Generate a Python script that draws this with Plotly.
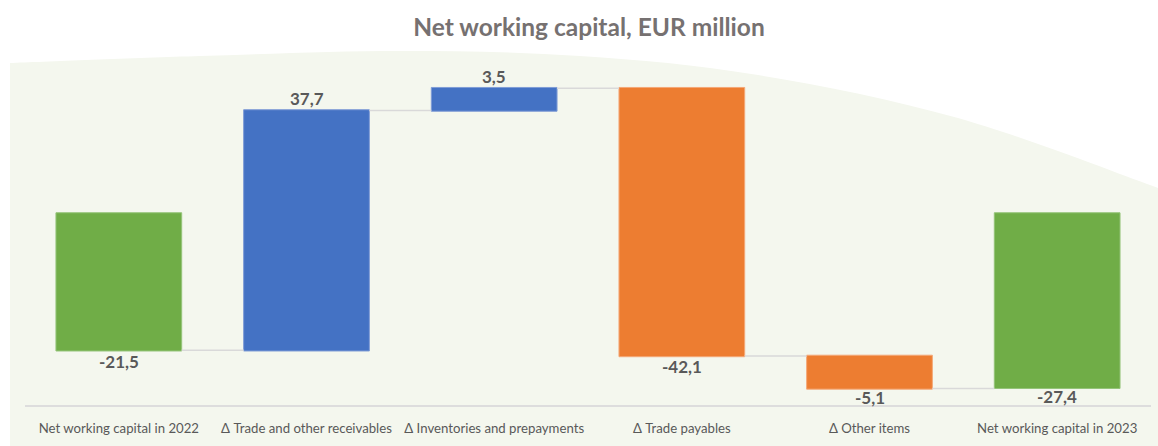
import plotly.graph_objects as go

# Net working capital bridge, EUR million
categories = [
    "Net working capital in 2022",
    "Δ Trade and other receivables",
    "Δ Inventories and prepayments",
    "Δ Trade payables",
    "Δ Other items",
    "Net working capital in 2023",
]
values = [-21.5, 37.7, 3.5, -42.1, -5.1, -27.4]
measures = ["absolute", "relative", "relative", "relative", "relative", "absolute"]
value_labels = [f"{v:.1f}".replace(".", ",") for v in values]

W, H = 1158, 446
M_L, M_R, M_T, M_B = 25, 7, 60, 41
PLOT_W = W - M_L - M_R
PLOT_H = H - M_T - M_B


def to_paper(x, y):
    """Convert a page pixel position into paper coordinates."""
    return (x - M_L) / PLOT_W, (H - M_B - y) / PLOT_H


# Soft arched backdrop behind the chart (Catmull-Rom curve through guide points)
arch = [(10, 63), (200, 56), (400, 51), (580, 56), (758, 75), (958, 118), (1158, 188)]
pts = [to_paper(*p) for p in arch]
ext = [pts[0]] + pts + [pts[-1]]
bx, by = to_paper(10, H)
ex, ey = to_paper(W, H)
path = f"M {bx:.5f},{by:.5f} L {pts[0][0]:.5f},{pts[0][1]:.5f} "
for i in range(1, len(ext) - 2):
    p0, p1, p2, p3 = ext[i - 1], ext[i], ext[i + 1], ext[i + 2]
    c1 = (p1[0] + (p2[0] - p0[0]) / 6, p1[1] + (p2[1] - p0[1]) / 6)
    c2 = (p2[0] - (p3[0] - p1[0]) / 6, p2[1] - (p3[1] - p1[1]) / 6)
    path += f"C {c1[0]:.5f},{c1[1]:.5f} {c2[0]:.5f},{c2[1]:.5f} {p2[0]:.5f},{p2[1]:.5f} "
path += f"L {ex:.5f},{ey:.5f} Z"

fig = go.Figure(
    go.Waterfall(
        x=categories,
        y=values,
        measure=measures,
        textposition="none",
        width=0.67,
        increasing=dict(marker=dict(color="#4472C4", line=dict(color="#7F9CD6", width=1))),
        decreasing=dict(marker=dict(color="#ED7D31", line=dict(color="#F4A877", width=1))),
        totals=dict(marker=dict(color="#70AD47", line=dict(color="#94C479", width=1))),
        connector=dict(mode="between", line=dict(color="#D9D9D9", width=1.5)),
        hoverinfo="skip",
    )
)

zero_px = 213.5
px_per_unit = 6.36
y_top = (zero_px - M_T) / px_per_unit
y_bottom = -(H - M_B - zero_px) / px_per_unit

# Value labels sit just beyond the end of each bar, kept clear of the axis line
annotations = []
level = 0.0
for cat, v, m, lab in zip(categories, values, measures, value_labels):
    start = 0.0 if m == "absolute" else level
    end = v if m == "absolute" else level + v
    level = end
    if end >= start:
        shift = 12
    else:
        end_px = zero_px - end * px_per_unit
        shift = -min(11, (H - M_B - 8) - end_px)
    annotations.append(
        dict(
            x=cat,
            y=end,
            text=lab,
            showarrow=False,
            yanchor="middle",
            yshift=shift,
            font=dict(family="Lato", size=17, color="#595959", weight="bold"),
        )
    )

fig.update_layout(
    width=W,
    height=H,
    margin=dict(l=M_L, r=M_R, t=M_T, b=M_B),
    paper_bgcolor="white",
    plot_bgcolor="rgba(0,0,0,0)",
    showlegend=False,
    title=dict(
        text="Net working capital, EUR million",
        x=589 / W,
        xanchor="center",
        xref="container",
        y=1 - 27 / H,
        yanchor="middle",
        yref="container",
        font=dict(family="Lato", size=24.5, color="#767171", weight="bold"),
    ),
    annotations=annotations,
    shapes=[
        dict(
            type="path",
            path=path,
            xref="paper",
            yref="paper",
            fillcolor="#F4F7EE",
            line=dict(width=0),
            layer="below",
        )
    ],
    xaxis=dict(
        showline=True,
        linecolor="#DDDDDD",
        linewidth=1.5,
        showgrid=False,
        ticks="",
        ticklabelstandoff=10,
        tickfont=dict(family="Lato", size=13.2, color="#595959"),
        range=[-0.5, 5.5],
    ),
    yaxis=dict(
        visible=False,
        showgrid=False,
        zeroline=False,
        range=[y_bottom, y_top],
    ),
)

fig.write_html("out.html")
